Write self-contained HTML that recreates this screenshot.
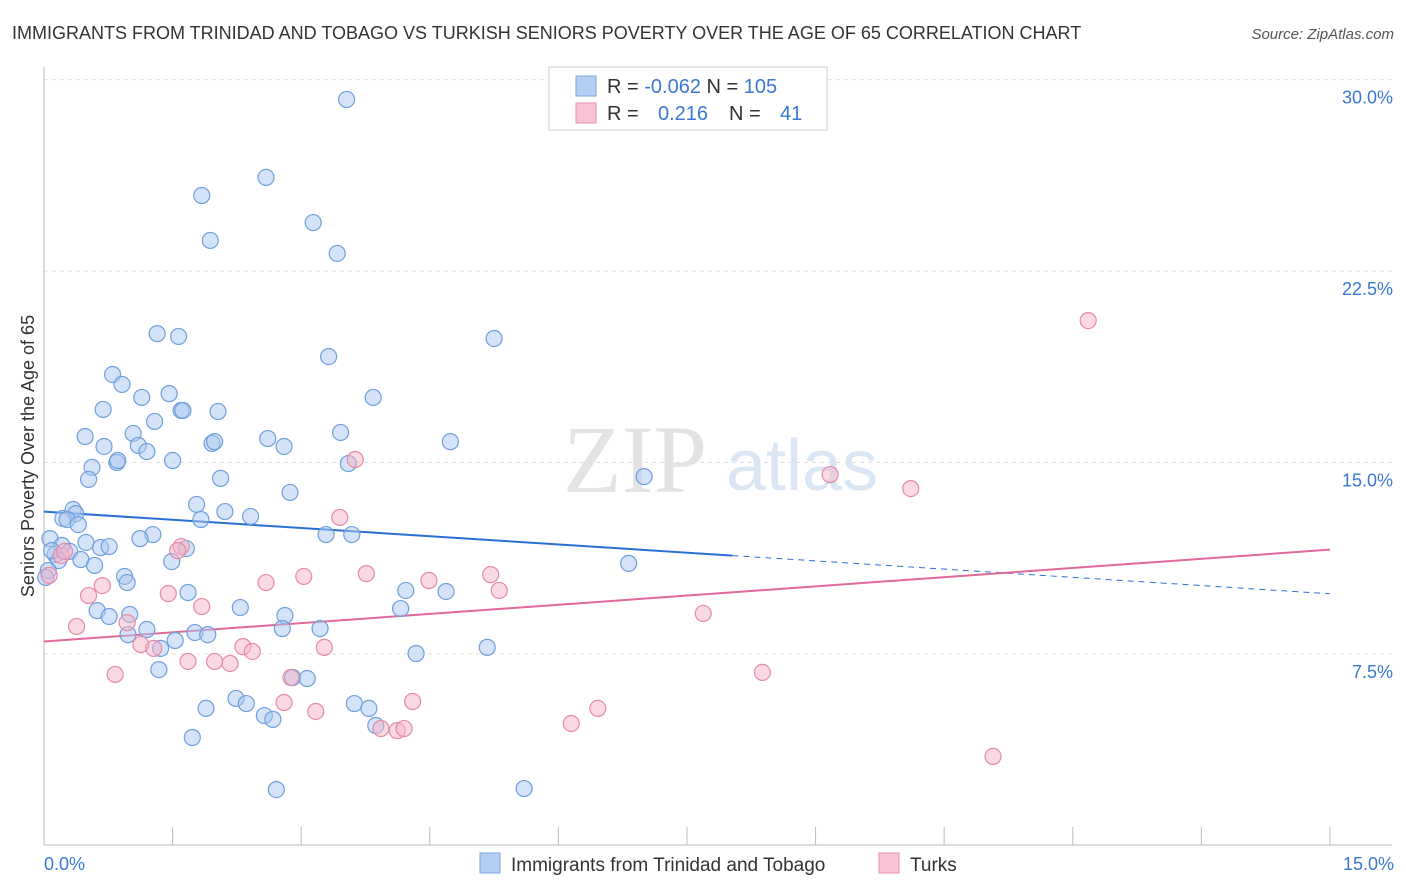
<!DOCTYPE html>
<html><head><meta charset="utf-8"><style>
body{margin:0;background:#fff;font-family:"Liberation Sans",sans-serif;}
svg{display:block}
</style></head><body>
<svg width="1406" height="892" id="chart">
<text x="12" y="39" font-size="18" fill="#333">IMMIGRANTS FROM TRINIDAD AND TOBAGO VS TURKISH SENIORS POVERTY OVER THE AGE OF 65 CORRELATION CHART</text>
<text x="1394" y="39" font-size="15" fill="#555" font-style="italic" text-anchor="end">Source: ZipAtlas.com</text>
<text x="635" y="492" font-size="96" fill="#e3e3e3" font-family="Liberation Serif,serif" text-anchor="middle">ZIP</text>
<text x="802" y="490" font-size="72" fill="#dbe6f5" text-anchor="middle">atlas</text>
<g id="grid"></g><g id="axes"></g><g id="lines"></g><g id="pts"></g>
<text x="34" y="456" font-size="18" fill="#333" text-anchor="middle" transform="rotate(-90 34 456)">Seniors Poverty Over the Age of 65</text>
<text x="44" y="870" font-size="18" fill="#3a78d4">0.0%</text>
<text x="1394" y="870" font-size="18" fill="#3a78d4" text-anchor="end">15.0%</text>
<g>
<rect x="549" y="67" width="278" height="63" fill="#fff" stroke="#ccc"/>
<rect x="576" y="76" width="20" height="20" fill="#b5cff2" stroke="#7aa7e0"/>
<rect x="576" y="103" width="20" height="20" fill="#f8c4d4" stroke="#e890ac"/>
<text x="607" y="93" font-size="20" fill="#333">R = <tspan fill="#3a78d4">-0.062</tspan>   N = <tspan fill="#3a78d4">105</tspan></text>
<text x="607" y="120" font-size="20" fill="#333">R = <tspan fill="#3a78d4" x="658">0.216</tspan><tspan x="729">N =</tspan><tspan fill="#3a78d4" x="780">41</tspan></text>
</g>
<g>
<rect x="480" y="853" width="20" height="20" fill="#b5cff2" stroke="#7aa7e0"/>
<text x="511" y="871" font-size="19" fill="#333">Immigrants from Trinidad and Tobago</text>
<rect x="879" y="853" width="20" height="20" fill="#f8c4d4" stroke="#e890ac"/>
<text x="910" y="871" font-size="19" fill="#333">Turks</text>
</g>
</svg>
<script>
const yTicks=[7.5,15,22.5,30];
const yTickLabels=["7.5%","15.0%","22.5%","30.0%"];
const blueX=[3.53,2.59,1.84,3.14,1.94,3.42,1.32,1.57,5.25,3.32,0.80,0.91,1.14,3.84,1.46,0.69,1.60,1.62,2.03,1.29,1.04,0.48,3.46,2.61,0.70,1.10,2.80,4.74,1.96,1.99,1.20,0.85,0.86,0.56,1.50,3.55,0.52,2.06,7.00,2.87,1.78,0.34,0.37,0.22,0.27,0.40,2.11,1.83,2.41,1.27,1.12,3.29,3.59,0.07,0.21,0.49,0.66,0.76,1.66,0.30,0.13,0.17,0.05,0.43,0.59,1.49,6.82,0.94,0.97,4.22,4.69,1.68,0.62,1.00,0.76,2.29,2.81,4.16,1.20,0.98,2.78,1.76,1.91,3.22,1.53,1.36,5.17,4.34,1.34,2.90,3.07,2.24,2.36,1.89,3.62,3.79,2.57,2.67,3.87,1.73,2.71,5.60,0.02,0.09];
const blueY=[29.22,26.17,25.46,24.40,23.70,23.19,20.05,19.94,19.86,19.15,18.45,18.06,17.55,17.55,17.70,17.08,17.04,17.04,17.00,16.61,16.14,16.02,16.18,15.94,15.63,15.67,15.63,15.82,15.75,15.82,15.43,15.00,15.08,14.81,15.08,14.96,14.34,14.38,14.45,13.83,13.36,13.16,13.00,12.81,12.77,12.57,13.08,12.77,12.89,12.18,12.02,12.18,12.18,12.02,11.75,11.87,11.67,11.71,11.63,11.52,11.40,11.16,10.77,11.20,10.97,11.12,11.05,10.54,10.30,9.99,9.95,9.91,9.20,9.05,8.97,9.32,9.01,9.28,8.46,8.26,8.50,8.34,8.26,8.50,8.03,7.72,7.76,7.52,6.89,6.58,6.54,5.76,5.56,5.37,5.56,5.37,5.09,4.94,4.70,4.23,2.19,2.23,10.50,11.55];
const pinkX=[12.18,9.17,10.11,3.63,3.45,1.60,1.56,0.20,0.24,0.06,0.68,3.76,3.03,2.59,4.49,5.21,5.31,0.52,1.84,1.45,7.69,0.97,0.38,1.13,1.28,2.32,2.43,3.27,1.68,1.99,2.17,0.83,2.88,8.38,4.30,2.80,3.17,6.46,6.15,3.93,4.12,4.20,11.07];
const pinkY=[20.56,14.53,13.98,15.12,12.85,11.71,11.55,11.36,11.52,10.58,10.18,10.65,10.54,10.30,10.38,10.61,9.99,9.79,9.36,9.87,9.09,8.73,8.58,7.87,7.72,7.79,7.60,7.76,7.21,7.21,7.13,6.70,6.58,6.78,5.64,5.60,5.25,5.37,4.78,4.58,4.50,4.58,3.49];
const blueTrend=[13.08,-0.2147];
const blueSolidEnd=8.03;
const pinkTrend=[7.99,0.24];
const NS="http://www.w3.org/2000/svg";
const X=v=>44+v*85.73, Y=v=>845.5-v*25.53;
function mk(tag,attrs,parent){const e=document.createElementNS(NS,tag);for(const k in attrs)e.setAttribute(k,attrs[k]);parent.appendChild(e);return e;}
const grid=document.getElementById('grid'),axes=document.getElementById('axes'),lines=document.getElementById('lines'),pts=document.getElementById('pts');
yTicks.forEach((t,i)=>{
 const l=mk('line',{x1:44,x2:1392,y1:Y(t),y2:Y(t),stroke:'#e0e0e0','stroke-dasharray':'4,4'},grid);
 
 
 const tx=mk('text',{x:1393,y:Y(t)+24,'font-size':18,fill:'#3a78d4','text-anchor':'end'},grid);
 tx.textContent=yTickLabels[i];
 
 
});
const ax=mk('line',{x1:44,x2:1392,y1:845,y2:845,stroke:'#bbb'},axes);


const ay=mk('line',{x1:44,x2:44,y1:67,y2:845,stroke:'#bbb'},axes);


for(let k=0;k<=10;k++){const t=mk('line',{x1:X(k*1.5),x2:X(k*1.5),y1:827,y2:845,stroke:'#bbb'},axes);
 
 }
function dots(xs,ys,fill,stroke,name){xs.forEach((x,i)=>{const c=mk('circle',{cx:X(x),cy:Y(ys[i]),r:8,fill:fill,'fill-opacity':0.5,stroke:stroke,'stroke-width':1.2},pts);
 
 });}
dots(blueX,blueY,'#a9c8f0','#6f9fdc','point-trinidad');
dots(pinkX,pinkY,'#f5b3c8','#e48aa8','point-turks');
const bl=mk('line',{x1:X(0),y1:Y(blueTrend[0]),x2:X(blueSolidEnd),y2:Y(blueTrend[0]+blueTrend[1]*blueSolidEnd),stroke:'#2a6fd6','stroke-width':2},lines);


const bd=mk('line',{x1:X(blueSolidEnd),y1:Y(blueTrend[0]+blueTrend[1]*blueSolidEnd),x2:X(15),y2:Y(blueTrend[0]+blueTrend[1]*15),stroke:'#2a6fd6','stroke-width':1,'stroke-dasharray':'6,5'},lines);


const pl=mk('line',{x1:X(0),y1:Y(pinkTrend[0]),x2:X(15),y2:Y(pinkTrend[0]+pinkTrend[1]*15),stroke:'#e0689a','stroke-width':2},lines);


</script>
</body></html>
